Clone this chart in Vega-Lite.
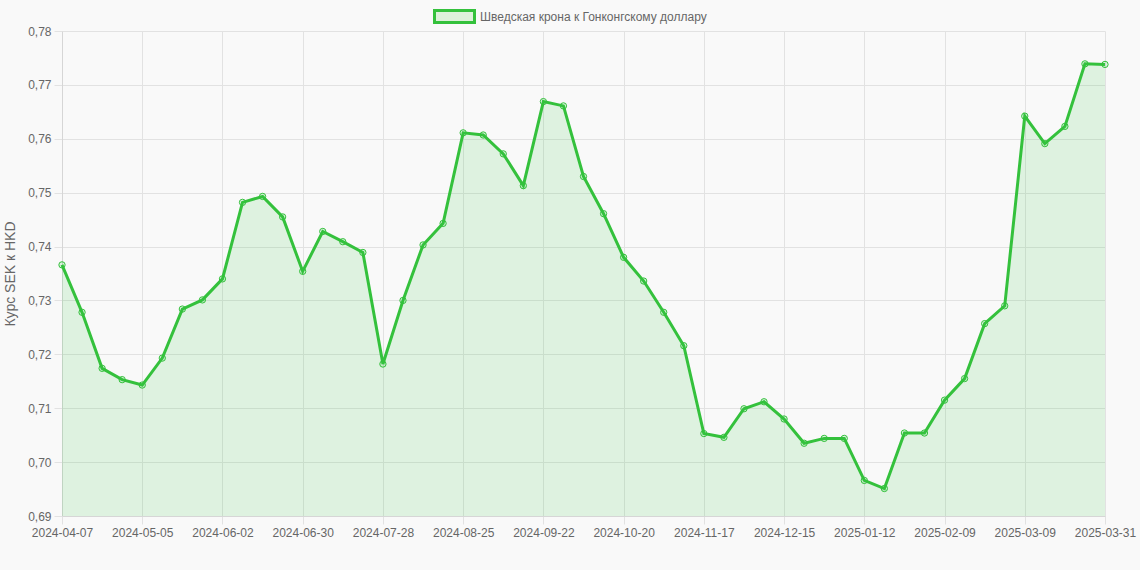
{
  "$schema": "https://vega.github.io/schema/vega-lite/v6.json",
  "description": "Шведская крона к Гонконгскому доллару, недельный курс",
  "width": 1043,
  "height": 485,
  "autosize": {"type": "none"},
  "padding": {"left": 62, "top": 31, "right": 35, "bottom": 54},
  "background": "#f9f9f9",
  "config": {
    "view": {"stroke": null},
    "font": "Liberation Sans",
    "axis": {
      "labelFont": "Liberation Sans",
      "labelFontSize": 12,
      "labelColor": "#666666",
      "titleFont": "Liberation Sans",
      "titleColor": "#666666",
      "gridColor": "#e2e2e2",
      "domainColor": "#d6d6d6",
      "tickColor": "#e2e2e2",
      "tickSize": 8
    },
    "legend": {"labelFont": "Liberation Sans", "labelFontSize": 12, "labelColor": "#666666", "labelLimit": 400}
  },
  "data": {
    "values": [
      {"date": "2024-04-07", "rate": 0.7366},
      {"date": "2024-04-14", "rate": 0.7278},
      {"date": "2024-04-21", "rate": 0.7174},
      {"date": "2024-04-28", "rate": 0.7153},
      {"date": "2024-05-05", "rate": 0.7143},
      {"date": "2024-05-12", "rate": 0.7193},
      {"date": "2024-05-19", "rate": 0.7284},
      {"date": "2024-05-26", "rate": 0.7301},
      {"date": "2024-06-02", "rate": 0.7340},
      {"date": "2024-06-09", "rate": 0.7482},
      {"date": "2024-06-16", "rate": 0.7493},
      {"date": "2024-06-23", "rate": 0.7455},
      {"date": "2024-06-30", "rate": 0.7354},
      {"date": "2024-07-07", "rate": 0.7428},
      {"date": "2024-07-14", "rate": 0.7409},
      {"date": "2024-07-21", "rate": 0.7389},
      {"date": "2024-07-28", "rate": 0.7182},
      {"date": "2024-08-04", "rate": 0.7300},
      {"date": "2024-08-11", "rate": 0.7403},
      {"date": "2024-08-18", "rate": 0.7443},
      {"date": "2024-08-25", "rate": 0.7611},
      {"date": "2024-09-01", "rate": 0.7607},
      {"date": "2024-09-08", "rate": 0.7572},
      {"date": "2024-09-15", "rate": 0.7513},
      {"date": "2024-09-22", "rate": 0.7669},
      {"date": "2024-09-29", "rate": 0.7661},
      {"date": "2024-10-06", "rate": 0.7530},
      {"date": "2024-10-13", "rate": 0.7461},
      {"date": "2024-10-20", "rate": 0.7380},
      {"date": "2024-10-27", "rate": 0.7336},
      {"date": "2024-11-03", "rate": 0.7278},
      {"date": "2024-11-10", "rate": 0.7216},
      {"date": "2024-11-17", "rate": 0.7053},
      {"date": "2024-11-24", "rate": 0.7046},
      {"date": "2024-12-01", "rate": 0.7099},
      {"date": "2024-12-08", "rate": 0.7112},
      {"date": "2024-12-15", "rate": 0.7080},
      {"date": "2024-12-22", "rate": 0.7035},
      {"date": "2024-12-29", "rate": 0.7044},
      {"date": "2025-01-05", "rate": 0.7044},
      {"date": "2025-01-12", "rate": 0.6966},
      {"date": "2025-01-19", "rate": 0.6951},
      {"date": "2025-01-26", "rate": 0.7054},
      {"date": "2025-02-02", "rate": 0.7054},
      {"date": "2025-02-09", "rate": 0.7115},
      {"date": "2025-02-16", "rate": 0.7155},
      {"date": "2025-02-23", "rate": 0.7257},
      {"date": "2025-03-02", "rate": 0.7290},
      {"date": "2025-03-09", "rate": 0.7642},
      {"date": "2025-03-16", "rate": 0.7591},
      {"date": "2025-03-23", "rate": 0.7623},
      {"date": "2025-03-30", "rate": 0.7739},
      {"date": "2025-03-31", "rate": 0.7738}
    ]
  },
  "encoding": {
    "x": {
      "field": "date",
      "type": "ordinal",
      "sort": null,
      "scale": {"type": "point", "padding": 0},
      "axis": {
        "title": null,
        "labelAngle": 0,
        "labelPadding": 3,
        "grid": true,
        "values": ["2024-04-07", "2024-05-05", "2024-06-02", "2024-06-30", "2024-07-28", "2024-08-25", "2024-09-22", "2024-10-20", "2024-11-17", "2024-12-15", "2025-01-12", "2025-02-09", "2025-03-09", "2025-03-31"]
      }
    },
    "y": {
      "field": "rate",
      "type": "quantitative",
      "scale": {"domain": [0.69, 0.78], "zero": false, "nice": false},
      "axis": {
        "title": "Курс SEK к HKD",
        "titleFontSize": 14,
        "titleFontWeight": "normal",
        "titlePadding": 10,
        "tickCount": 10,
        "labelPadding": 3,
        "labelExpr": "replace(format(datum.value, '.2f'), '.', ',')"
      }
    }
  },
  "layer": [
    {
      "mark": {"type": "area", "color": "#2ecc40", "opacity": 0.13},
      "encoding": {"y2": {"datum": 0.69}}
    },
    {
      "mark": {"type": "line", "strokeWidth": 3},
      "encoding": {
        "stroke": {
          "datum": "Шведская крона к Гонконгскому доллару",
          "scale": {"range": ["#34c13c"]},
          "legend": {
            "title": null,
            "orient": "none",
            "legendX": 371,
            "legendY": -36,
            "symbolType": "M-1,-0.3H1V0.3H-1Z",
            "symbolSize": 1600,
            "symbolStrokeWidth": 3,
            "labelOffset": 4,
            "encode": {"symbols": {"update": {"fill": {"value": "#ddf1da"}, "strokeWidth": {"value": 3}}}}
          }
        }
      }
    },
    {
      "mark": {"type": "point", "shape": "circle", "size": 40, "filled": false, "fill": "#2ecc40", "fillOpacity": 0.15, "stroke": "#34c13c", "strokeWidth": 1, "opacity": 1}
    }
  ]
}
